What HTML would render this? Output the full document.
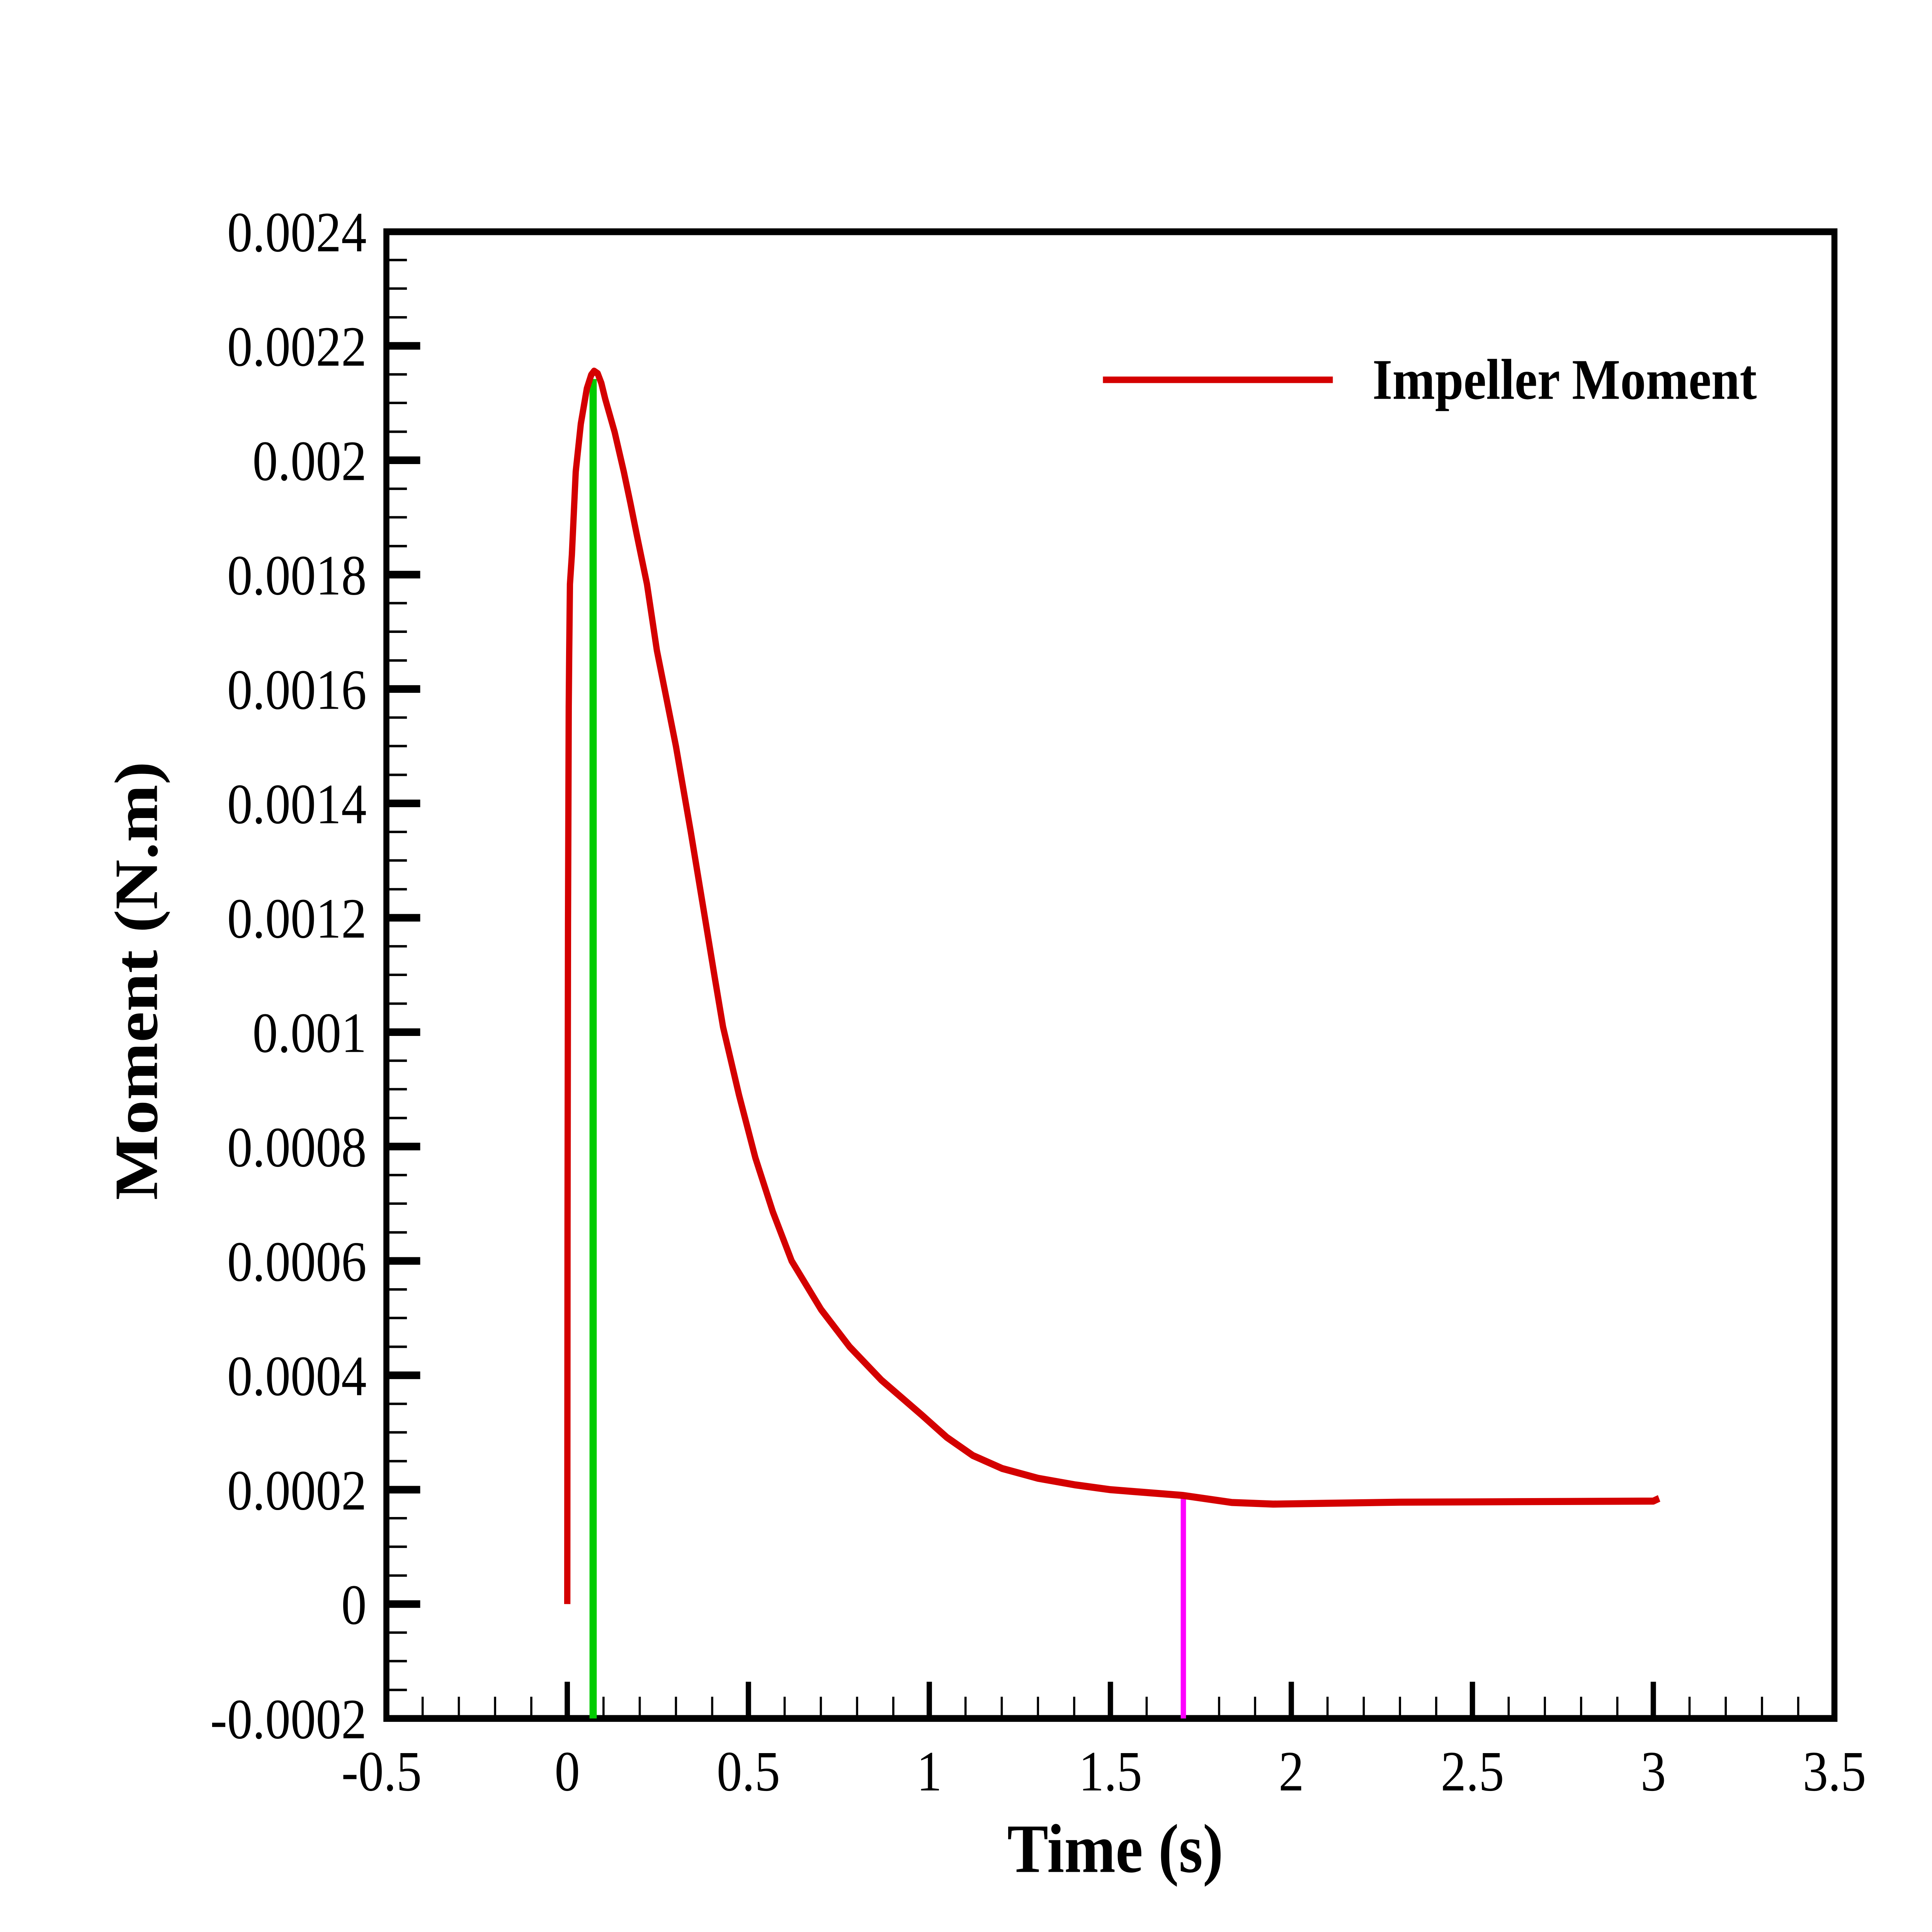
<!DOCTYPE html>
<html><head><meta charset="utf-8"><style>
html,body{margin:0;padding:0;background:#fff;width:100%;height:100%;overflow:hidden}
svg{display:block;width:100vw;height:100vh}
</style></head><body>
<svg viewBox="0 0 8000 7111" preserveAspectRatio="none" xmlns="http://www.w3.org/2000/svg" font-family="Liberation Serif, serif">
<rect width="8000" height="7111" fill="#fff"/>
<g stroke="#000">
<g stroke-width="28">
<line x1="1600" y1="1273" x2="1740" y2="1273"/>
<line x1="1600" y1="1694" x2="1740" y2="1694"/>
<line x1="1600" y1="2115" x2="1740" y2="2115"/>
<line x1="1600" y1="2536" x2="1740" y2="2536"/>
<line x1="1600" y1="2957" x2="1740" y2="2957"/>
<line x1="1600" y1="3378" x2="1740" y2="3378"/>
<line x1="1600" y1="3799" x2="1740" y2="3799"/>
<line x1="1600" y1="4220" x2="1740" y2="4220"/>
<line x1="1600" y1="4641" x2="1740" y2="4641"/>
<line x1="1600" y1="5062" x2="1740" y2="5062"/>
<line x1="1600" y1="5483" x2="1740" y2="5483"/>
<line x1="1600" y1="5904" x2="1740" y2="5904"/>
</g>
<g stroke-width="9">
<line x1="1600" y1="957" x2="1685" y2="957"/><line x1="1600" y1="1062" x2="1685" y2="1062"/><line x1="1600" y1="1168" x2="1685" y2="1168"/>
<line x1="1600" y1="1378" x2="1685" y2="1378"/><line x1="1600" y1="1483" x2="1685" y2="1483"/><line x1="1600" y1="1589" x2="1685" y2="1589"/>
<line x1="1600" y1="1799" x2="1685" y2="1799"/><line x1="1600" y1="1904" x2="1685" y2="1904"/><line x1="1600" y1="2010" x2="1685" y2="2010"/>
<line x1="1600" y1="2220" x2="1685" y2="2220"/><line x1="1600" y1="2325" x2="1685" y2="2325"/><line x1="1600" y1="2431" x2="1685" y2="2431"/>
<line x1="1600" y1="2641" x2="1685" y2="2641"/><line x1="1600" y1="2746" x2="1685" y2="2746"/><line x1="1600" y1="2852" x2="1685" y2="2852"/>
<line x1="1600" y1="3062" x2="1685" y2="3062"/><line x1="1600" y1="3167" x2="1685" y2="3167"/><line x1="1600" y1="3273" x2="1685" y2="3273"/>
<line x1="1600" y1="3483" x2="1685" y2="3483"/><line x1="1600" y1="3588" x2="1685" y2="3588"/><line x1="1600" y1="3694" x2="1685" y2="3694"/>
<line x1="1600" y1="3904" x2="1685" y2="3904"/><line x1="1600" y1="4009" x2="1685" y2="4009"/><line x1="1600" y1="4115" x2="1685" y2="4115"/>
<line x1="1600" y1="4325" x2="1685" y2="4325"/><line x1="1600" y1="4430" x2="1685" y2="4430"/><line x1="1600" y1="4536" x2="1685" y2="4536"/>
<line x1="1600" y1="4746" x2="1685" y2="4746"/><line x1="1600" y1="4851" x2="1685" y2="4851"/><line x1="1600" y1="4957" x2="1685" y2="4957"/>
<line x1="1600" y1="5167" x2="1685" y2="5167"/><line x1="1600" y1="5272" x2="1685" y2="5272"/><line x1="1600" y1="5378" x2="1685" y2="5378"/>
<line x1="1600" y1="5588" x2="1685" y2="5588"/><line x1="1600" y1="5693" x2="1685" y2="5693"/><line x1="1600" y1="5799" x2="1685" y2="5799"/>
<line x1="1600" y1="6009" x2="1685" y2="6009"/><line x1="1600" y1="6114" x2="1685" y2="6114"/><line x1="1600" y1="6220" x2="1685" y2="6220"/>
</g>
<g stroke-width="22">
<line x1="2349" y1="6325" x2="2349" y2="6190"/><line x1="3099" y1="6325" x2="3099" y2="6190"/><line x1="3848" y1="6325" x2="3848" y2="6190"/>
<line x1="4598" y1="6325" x2="4598" y2="6190"/><line x1="5347" y1="6325" x2="5347" y2="6190"/><line x1="6097" y1="6325" x2="6097" y2="6190"/>
<line x1="6846" y1="6325" x2="6846" y2="6190"/>
</g>
<g stroke-width="9">
<line x1="1750" y1="6325" x2="1750" y2="6245"/><line x1="1900" y1="6325" x2="1900" y2="6245"/><line x1="2050" y1="6325" x2="2050" y2="6245"/><line x1="2200" y1="6325" x2="2200" y2="6245"/>
<line x1="2499" y1="6325" x2="2499" y2="6245"/><line x1="2649" y1="6325" x2="2649" y2="6245"/><line x1="2799" y1="6325" x2="2799" y2="6245"/><line x1="2949" y1="6325" x2="2949" y2="6245"/>
<line x1="3249" y1="6325" x2="3249" y2="6245"/><line x1="3399" y1="6325" x2="3399" y2="6245"/><line x1="3549" y1="6325" x2="3549" y2="6245"/><line x1="3699" y1="6325" x2="3699" y2="6245"/>
<line x1="3998" y1="6325" x2="3998" y2="6245"/><line x1="4148" y1="6325" x2="4148" y2="6245"/><line x1="4298" y1="6325" x2="4298" y2="6245"/><line x1="4448" y1="6325" x2="4448" y2="6245"/>
<line x1="4748" y1="6325" x2="4748" y2="6245"/><line x1="4898" y1="6325" x2="4898" y2="6245"/><line x1="5048" y1="6325" x2="5048" y2="6245"/><line x1="5197" y1="6325" x2="5197" y2="6245"/>
<line x1="5497" y1="6325" x2="5497" y2="6245"/><line x1="5647" y1="6325" x2="5647" y2="6245"/><line x1="5797" y1="6325" x2="5797" y2="6245"/><line x1="5947" y1="6325" x2="5947" y2="6245"/>
<line x1="6247" y1="6325" x2="6247" y2="6245"/><line x1="6397" y1="6325" x2="6397" y2="6245"/><line x1="6547" y1="6325" x2="6547" y2="6245"/><line x1="6697" y1="6325" x2="6697" y2="6245"/>
<line x1="6996" y1="6325" x2="6996" y2="6245"/><line x1="7146" y1="6325" x2="7146" y2="6245"/><line x1="7296" y1="6325" x2="7296" y2="6245"/><line x1="7446" y1="6325" x2="7446" y2="6245"/>
</g>
</g>
<rect x="1600" y="853" width="5996" height="5472" fill="none" stroke="#000" stroke-width="25"/>
<line x1="2456" y1="6325" x2="2456" y2="1395" stroke="#00cc00" stroke-width="30"/>
<line x1="4900" y1="6325" x2="4900" y2="5504" stroke="#ff00ff" stroke-width="22"/>
<polyline fill="none" stroke="#d40000" stroke-width="26" stroke-linejoin="round"
points="2349,5904 2350,4500 2352,3400 2355,2600 2357,2400 2360,2150 2368,2042 2384,1736 2405,1560 2430,1430 2448,1380 2460,1366 2475,1375 2490,1410 2506,1468 2545,1590 2583,1736 2610,1850 2636,1965 2679,2150 2720,2394 2755,2550 2799,2747 2860,3060 2919,3378 2960,3600 2994,3780 3060,4030 3128,4262 3200,4460 3278,4641 3400,4820 3518,4957 3650,5080 3818,5209 3920,5290 4028,5357 4150,5405 4298,5441 4450,5465 4598,5483 4897,5504 5100,5530 5272,5536 5500,5533 5797,5529 6846,5525 6870,5515"/>
<line x1="4567" y1="1398" x2="5519" y2="1398" stroke="#d40000" stroke-width="24"/>
<text x="5683" y="1468" font-size="212" font-weight="bold">Impeller Moment</text>
<g font-size="210" text-anchor="end">
<text x="1518" y="925">0.0024</text>
<text x="1518" y="1346">0.0022</text>
<text x="1518" y="1767">0.002</text>
<text x="1518" y="2188">0.0018</text>
<text x="1518" y="2609">0.0016</text>
<text x="1518" y="3030">0.0014</text>
<text x="1518" y="3451">0.0012</text>
<text x="1518" y="3872">0.001</text>
<text x="1518" y="4293">0.0008</text>
<text x="1518" y="4714">0.0006</text>
<text x="1518" y="5135">0.0004</text>
<text x="1518" y="5556">0.0002</text>
<text x="1518" y="5977">0</text>
<text x="1518" y="6398">-0.0002</text>
</g>
<g font-size="210" text-anchor="middle">
<text x="1580" y="6590">-0.5</text>
<text x="2349" y="6590">0</text>
<text x="3099" y="6590">0.5</text>
<text x="3848" y="6590">1</text>
<text x="4598" y="6590">1.5</text>
<text x="5347" y="6590">2</text>
<text x="6097" y="6590">2.5</text>
<text x="6846" y="6590">3</text>
<text x="7596" y="6590">3.5</text>
</g>
<text x="4618" y="6890" font-size="255" font-weight="bold" text-anchor="middle">Time (s)</text>
<text transform="translate(650,3610) rotate(-90)" font-size="255" font-weight="bold" text-anchor="middle">Moment (N.m)</text>
</svg>
</body></html>
